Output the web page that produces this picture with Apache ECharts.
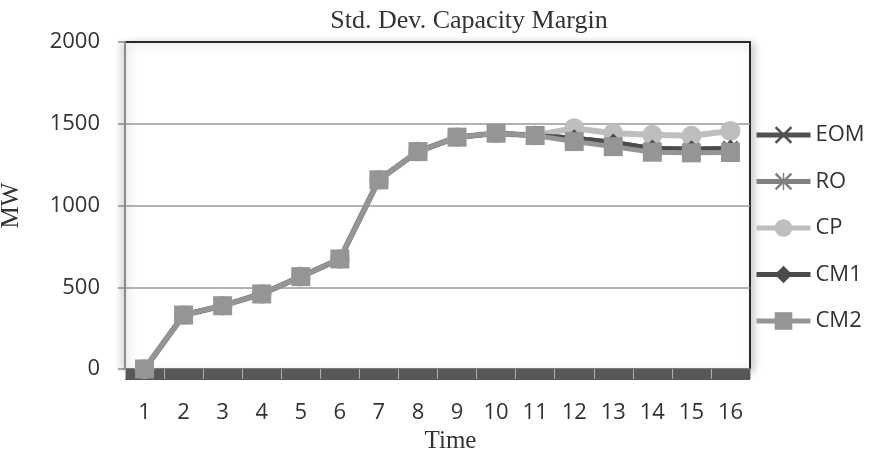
<!DOCTYPE html>
<html>
<head>
<meta charset="utf-8">
<script src="https://cdn.jsdelivr.net/npm/echarts@6/dist/echarts.min.js"></script>
<style>html,body{margin:0;padding:0;background:#fff;}#c{width:873px;height:456px;}</style>
</head>
<body>
<div id="c"></div>
<script>
const categories = ['1','2','3','4','5','6','7','8','9','10','11','12','13','14','15','16'];
const yTicks = [0, 500, 1000, 1500, 2000];
const EOM = [0,330,387,459,565,673,1157,1330,1418,1442,1428,1412,1385,1348,1344,1348];
const RO  = [0,330,387,459,565,673,1157,1330,1418,1442,1428,1412,1385,1348,1344,1348];
const CP  = [0,330,387,459,565,673,1157,1330,1418,1442,1428,1473,1442,1432,1426,1456];
const CM1 = [0,330,387,459,565,673,1157,1330,1418,1442,1428,1412,1385,1348,1344,1348];
const CM2 = [0,330,387,459,565,673,1157,1330,1418,1442,1428,1391,1360,1326,1322,1324];

const crossPath = 'path://M2,0 L10,8 L18,0 L20,2 L12,10 L20,18 L18,20 L10,12 L2,20 L0,18 L8,10 L0,2 Z';
const starPath = 'path://M2,0 L10,8 L18,0 L20,2 L12,10 L20,18 L18,20 L10,12 L2,20 L0,18 L8,10 L0,2 Z M9.2,0 L10.8,0 L10.8,20 L9.2,20 Z';

const sans = 'Open Sans';
const serif = 'Liberation Serif';

function mk(name, data, color, symbol, size, width) {
  return {
    name: name, type: 'line', data: data, xAxisIndex: 0,
    symbol: symbol, symbolSize: size,
    lineStyle: { color: color, width: width },
    itemStyle: { color: color },
    animation: false
  };
}

const chart = echarts.init(document.getElementById('c'));
chart.setOption({
  backgroundColor: '#fff',
  animation: false,
  title: {
    text: 'Std. Dev. Capacity Margin',
    left: 464, top: 3, textAlign: 'center',
    textStyle: { fontFamily: serif, fontSize: 26, fontWeight: 'normal', color: '#333' }
  },
  legend: {
    orient: 'vertical', left: 749, top: 119,
    itemWidth: 54, itemHeight: 22, itemGap: 24.5,
    lineStyle: { width: 5 },
    textStyle: { fontFamily: sans, fontSize: 22, color: '#333' },
    data: ['EOM','RO','CP','CM1','CM2']
  },
  grid: {
    left: 125, right: 123, top: 42, bottom: 87,
    outerBoundsMode: 'none', containLabel: false,
    show: true, backgroundColor: '#fff', borderColor: '#2a2a2a', borderWidth: 2,
    shadowColor: 'rgba(0,0,0,0.22)', shadowBlur: 8, shadowOffsetX: 3, shadowOffsetY: 2
  },
  xAxis: [
    {
      type: 'category', data: categories, boundaryGap: true,
      axisLine: { show: false }, axisTick: { show: false },
      axisLabel: { margin: 33, fontFamily: sans, fontSize: 22, color: '#333' },
      name: 'Time', nameLocation: 'middle', nameGap: 58,
      nameTextStyle: { fontFamily: serif, fontSize: 25, color: '#333', padding: [0,0,0,26] }
    },
    {
      type: 'category', data: categories, boundaryGap: true, offset: 5, position: 'bottom',
      axisLine: { show: true, lineStyle: { color: '#575757', width: 11, cap: 'butt' } },
      axisTick: { show: true, inside: true, length: 5, lineStyle: { color: '#b0b0b0', width: 1 } },
      axisLabel: { show: false }, splitLine: { show: false }
    },
    {
      type: 'category', data: categories, boundaryGap: true, offset: 5, position: 'bottom',
      axisLine: { show: false },
      axisTick: { show: true, inside: false, length: 5, lineStyle: { color: '#b0b0b0', width: 1 } },
      axisLabel: { show: false }, splitLine: { show: false }
    }
  ],
  yAxis: {
    type: 'value', min: yTicks[0], max: yTicks[yTicks.length - 1], interval: 500,
    axisLine: { show: true, lineStyle: { color: '#8a8a8a', width: 2, shadowColor: 'rgba(0,0,0,0.3)', shadowBlur: 6, shadowOffsetX: -3 } },
    axisTick: { show: true, length: 7, lineStyle: { color: '#8a8a8a', width: 1.5 } },
    axisLabel: { margin: 25, fontFamily: sans, fontSize: 22, color: '#333', formatter: function (v) { return String(v); } },
    splitLine: { show: true, lineStyle: { color: ['#999','#999','#999','#999','#2a2a2a'], width: 1.5 } },
    name: 'MW', nameLocation: 'middle', nameGap: 101,
    nameTextStyle: { fontFamily: serif, fontSize: 25, color: '#333' }
  },
  series: [
    mk('EOM', EOM, '#515151', crossPath, 16, 5),
    mk('RO', RO, '#808080', starPath, 16, 5),
    mk('CP', CP, '#bebebe', 'circle', 20, 6),
    mk('CM1', CM1, '#4b4b4b', 'diamond', 18, 5),
    mk('CM2', CM2, '#959595', 'rect', 19, 5)
  ]
});
</script>
</body>
</html>
